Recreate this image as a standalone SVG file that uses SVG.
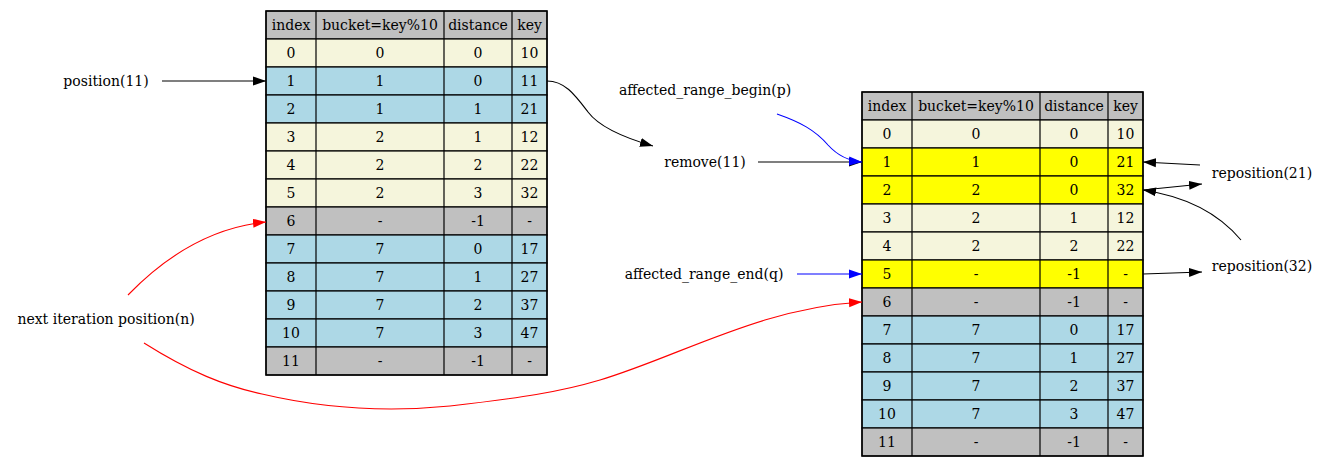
<svg xmlns="http://www.w3.org/2000/svg" width="1331" height="467" viewBox="0 0 1331 467">
<style>
text{font-family:"DejaVu Serif","Liberation Serif",serif;font-size:14px;fill:#000;text-anchor:middle}
.row{stroke:#000;stroke-width:1.2}
.hd{fill:#c0c0c0}.bg{fill:#f5f5dc}.bl{fill:#add8e6}.gr{fill:#c0c0c0}.ye{fill:#ffff00}
.vl{stroke:#000;stroke-width:1.2}
.e{fill:none;stroke-width:1.1}
.k{stroke:#000}.b{stroke:#0000ff}.r{stroke:#ff0000}
</style>
<defs>
<marker id="ak" markerUnits="userSpaceOnUse" markerWidth="14" markerHeight="10" refX="13" refY="5" orient="auto"><path d="M0,0.5 L13,5 L0,9.5 z" fill="#000"/></marker>
<marker id="ab" markerUnits="userSpaceOnUse" markerWidth="14" markerHeight="10" refX="13" refY="5" orient="auto"><path d="M0,0.5 L13,5 L0,9.5 z" fill="#0000ff"/></marker>
<marker id="ar" markerUnits="userSpaceOnUse" markerWidth="14" markerHeight="10" refX="13" refY="5" orient="auto"><path d="M0,0.5 L13,5 L0,9.5 z" fill="#ff0000"/></marker>
</defs>
<rect width="1331" height="467" fill="#fff"/>

<g id="table_before">
<rect class="row hd" x="266" y="11" width="281" height="28"/>
<rect class="row bg" x="266" y="39" width="281" height="28"/>
<rect class="row bl" x="266" y="67" width="281" height="28"/>
<rect class="row bl" x="266" y="95" width="281" height="28"/>
<rect class="row bg" x="266" y="123" width="281" height="28"/>
<rect class="row bg" x="266" y="151" width="281" height="28"/>
<rect class="row bg" x="266" y="179" width="281" height="28"/>
<rect class="row gr" x="266" y="207" width="281" height="28"/>
<rect class="row bl" x="266" y="235" width="281" height="28"/>
<rect class="row bl" x="266" y="263" width="281" height="28"/>
<rect class="row bl" x="266" y="291" width="281" height="28"/>
<rect class="row bl" x="266" y="319" width="281" height="28"/>
<rect class="row gr" x="266" y="347" width="281" height="28"/>
<line class="vl" x1="316" y1="11" x2="316" y2="375"/>
<line class="vl" x1="444" y1="11" x2="444" y2="375"/>
<line class="vl" x1="512" y1="11" x2="512" y2="375"/>
<rect x="266" y="11" width="281" height="364" fill="none" stroke="#000" stroke-width="1.4"/>
<text x="291" y="30">index</text><text x="380" y="30">bucket=key%10</text><text x="478" y="30">distance</text><text x="529.5" y="30">key</text>
<text x="291" y="58">0</text><text x="380" y="58">0</text><text x="478" y="58">0</text><text x="529.5" y="58">10</text>
<text x="291" y="86">1</text><text x="380" y="86">1</text><text x="478" y="86">0</text><text x="529.5" y="86">11</text>
<text x="291" y="114">2</text><text x="380" y="114">1</text><text x="478" y="114">1</text><text x="529.5" y="114">21</text>
<text x="291" y="142">3</text><text x="380" y="142">2</text><text x="478" y="142">1</text><text x="529.5" y="142">12</text>
<text x="291" y="170">4</text><text x="380" y="170">2</text><text x="478" y="170">2</text><text x="529.5" y="170">22</text>
<text x="291" y="198">5</text><text x="380" y="198">2</text><text x="478" y="198">3</text><text x="529.5" y="198">32</text>
<text x="291" y="226">6</text><text x="380" y="226">-</text><text x="478" y="226">-1</text><text x="529.5" y="226">-</text>
<text x="291" y="254">7</text><text x="380" y="254">7</text><text x="478" y="254">0</text><text x="529.5" y="254">17</text>
<text x="291" y="282">8</text><text x="380" y="282">7</text><text x="478" y="282">1</text><text x="529.5" y="282">27</text>
<text x="291" y="310">9</text><text x="380" y="310">7</text><text x="478" y="310">2</text><text x="529.5" y="310">37</text>
<text x="291" y="338">10</text><text x="380" y="338">7</text><text x="478" y="338">3</text><text x="529.5" y="338">47</text>
<text x="291" y="366">11</text><text x="380" y="366">-</text><text x="478" y="366">-1</text><text x="529.5" y="366">-</text>
</g>

<g id="table_after">
<rect class="row hd" x="862" y="92" width="281" height="28"/>
<rect class="row bg" x="862" y="120" width="281" height="28"/>
<rect class="row ye" x="862" y="148" width="281" height="28"/>
<rect class="row ye" x="862" y="176" width="281" height="28"/>
<rect class="row bg" x="862" y="204" width="281" height="28"/>
<rect class="row bg" x="862" y="232" width="281" height="28"/>
<rect class="row ye" x="862" y="260" width="281" height="28"/>
<rect class="row gr" x="862" y="288" width="281" height="28"/>
<rect class="row bl" x="862" y="316" width="281" height="28"/>
<rect class="row bl" x="862" y="344" width="281" height="28"/>
<rect class="row bl" x="862" y="372" width="281" height="28"/>
<rect class="row bl" x="862" y="400" width="281" height="28"/>
<rect class="row gr" x="862" y="428" width="281" height="28"/>
<line class="vl" x1="912" y1="92" x2="912" y2="456"/>
<line class="vl" x1="1040" y1="92" x2="1040" y2="456"/>
<line class="vl" x1="1108" y1="92" x2="1108" y2="456"/>
<rect x="862" y="92" width="281" height="364" fill="none" stroke="#000" stroke-width="1.4"/>
<text x="887" y="111">index</text><text x="976" y="111">bucket=key%10</text><text x="1074" y="111">distance</text><text x="1125.5" y="111">key</text>
<text x="887" y="139">0</text><text x="976" y="139">0</text><text x="1074" y="139">0</text><text x="1125.5" y="139">10</text>
<text x="887" y="167">1</text><text x="976" y="167">1</text><text x="1074" y="167">0</text><text x="1125.5" y="167">21</text>
<text x="887" y="195">2</text><text x="976" y="195">2</text><text x="1074" y="195">0</text><text x="1125.5" y="195">32</text>
<text x="887" y="223">3</text><text x="976" y="223">2</text><text x="1074" y="223">1</text><text x="1125.5" y="223">12</text>
<text x="887" y="251">4</text><text x="976" y="251">2</text><text x="1074" y="251">2</text><text x="1125.5" y="251">22</text>
<text x="887" y="279">5</text><text x="976" y="279">-</text><text x="1074" y="279">-1</text><text x="1125.5" y="279">-</text>
<text x="887" y="307">6</text><text x="976" y="307">-</text><text x="1074" y="307">-1</text><text x="1125.5" y="307">-</text>
<text x="887" y="335">7</text><text x="976" y="335">7</text><text x="1074" y="335">0</text><text x="1125.5" y="335">17</text>
<text x="887" y="363">8</text><text x="976" y="363">7</text><text x="1074" y="363">1</text><text x="1125.5" y="363">27</text>
<text x="887" y="391">9</text><text x="976" y="391">7</text><text x="1074" y="391">2</text><text x="1125.5" y="391">37</text>
<text x="887" y="419">10</text><text x="976" y="419">7</text><text x="1074" y="419">3</text><text x="1125.5" y="419">47</text>
<text x="887" y="447">11</text><text x="976" y="447">-</text><text x="1074" y="447">-1</text><text x="1125.5" y="447">-</text>
</g>

<g id="label_position"><text x="106" y="86">position(11)</text></g>
<g id="label_next"><text x="106" y="324">next iteration position(n)</text></g>
<g id="label_begin"><text x="705" y="95">affected_range_begin(p)</text></g>
<g id="label_remove"><text x="705" y="167">remove(11)</text></g>
<g id="label_end"><text x="704" y="279">affected_range_end(q)</text></g>
<g id="label_repos21"><text x="1262" y="178">reposition(21)</text></g>
<g id="label_repos32"><text x="1262" y="271">reposition(32)</text></g>

<g id="connectors">
<path class="e k" d="M162,81 L266,81" marker-end="url(#ak)"/>
<path class="e k" d="M547,81 C565,81 575,95 588,112 C600,128 625,138 653,146" marker-end="url(#ak)"/>
<path class="e k" d="M758,162 L862,162" marker-end="url(#ak)"/>
<path class="e b" d="M777,114 C800,122 815,130 828,145 C838,156 848,161 862,162" marker-end="url(#ab)"/>
<path class="e b" d="M797,274 L862,274" marker-end="url(#ab)"/>
<path class="e k" d="M1200,165 L1143,162" marker-end="url(#ak)"/>
<path class="e k" d="M1143,190 L1202,184" marker-end="url(#ak)"/>
<path class="e k" d="M1241,240 C1220,215 1190,197 1143,190" marker-end="url(#ak)"/>
<path class="e k" d="M1143,274 L1202,272" marker-end="url(#ak)"/>
<path class="e r" d="M128,295 C160,262 205,228 266,222" marker-end="url(#ar)"/>
<path class="e r" d="M144,343 C190,372 225,386 262,394 C330,410 390,412 450,406 C520,398 560,392 600,380 C680,356 760,308 862,302" marker-end="url(#ar)"/>
</g>
</svg>
